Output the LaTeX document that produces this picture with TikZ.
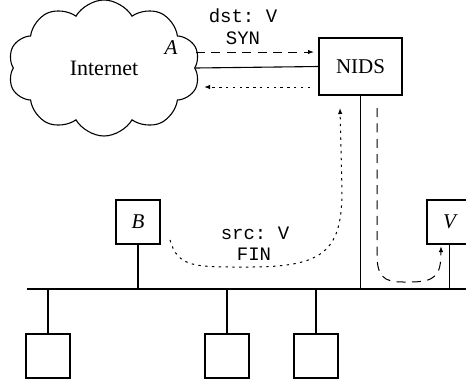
\documentclass[tikz,border=0pt]{standalone}
\usepackage{fontspec}
\setmainfont{Liberation Serif}
\setmonofont{Liberation Mono}
\usetikzlibrary{shapes.symbols, arrows.meta}

\begin{document}
\begin{tikzpicture}[
	x=0.5pt, y=-0.5pt,
	net node/.style = {draw, line width=0.55pt},
	host/.style = {net node, rectangle, minimum size=22pt, inner sep=0pt, font=\fontsize{10.5}{12}\selectfont\itshape},
	wire/.style = {line width=0.55pt},
	tip/.style = {-{Latex[length=3pt, width=2.2pt]}},
	long dash/.style = {tip, line width=0.5pt, dash pattern=on 4.5pt off 3.2pt},
	short dash/.style = {tip, line width=0.5pt, dash pattern=on 1.2pt off 2.2pt},
	pkt/.style = {font=\ttfamily\fontsize{9.5}{11}\selectfont, inner sep=0pt},
]

	\useasboundingbox (0,0) rectangle (466,382);

	%% The outside world and the sensor
	\node [net node, cloud, cloud puffs=10, cloud puff arc=120, cloud ignores aspect,
		minimum width=96pt, minimum height=68pt, inner sep=0pt, font=\fontsize{11}{13}\selectfont]
		at (104,68) (inet) {Internet};
	\node [font=\fontsize{10.5}{12}\selectfont\itshape, inner sep=0pt] at (171,48) (a) {A};
	\node [net node, rectangle, minimum width=41.5pt, minimum height=28.5pt,
		font=\fontsize{10.5}{12}\selectfont] at (360.5,66.5) (nids) {NIDS};
	\draw [wire] (inet.east) -- (nids.west);

	%% The local segment
	\coordinate (bus-l) at (27,289);
	\coordinate (bus-r) at (470,289);
	\draw [wire] (bus-l) -- (bus-r);
	\draw [wire] (nids.south) -- (nids.south |- bus-l);

	\node [host] at (138,222) (b) {B};
	\node [host, minimum width=22.5pt] at (449.5,222) (v) {V};
	\foreach \h in {b, v}{%
		\draw [wire] (\h.south) -- (\h.south |- bus-l);
	}

	%% Iterate over the other hosts below the bus
	\foreach [count=\n] \x in {48, 227, 316}{%
		\node [host] at (\x,356) (h-\n) {};
		\draw [wire] (h-\n.north) -- (h-\n.north |- bus-l);
	}

	%% Packets
	\coordinate (syn-s) at (196,52);
	\coordinate (syn-e) at (314,52);
	\coordinate (back-s) at (310,87);
	\coordinate (back-e) at (204,87);
	\draw [long dash] (syn-s) -- (syn-e);
	\draw [short dash] (back-s) -- (back-e);
	\node [pkt] at (243,16) (dst) {dst: V};
	\node [pkt] at (243,38) (syn) {SYN};

	\coordinate (fin-s) at (170,240);
	\coordinate (fin-e) at (340,108);
	\draw [short dash] (fin-s) .. controls (178,268) and (195,267) .. (250,267)
		.. controls (325,267) and (342,250) .. (342,190) -- (fin-e);
	\node [pkt] at (255,233) (src) {src: V};
	\node [pkt] at (254,254) (fin) {FIN};

	\coordinate (fwd-s) at (377,108);
	\coordinate (fwd-e) at (441,246);
	\draw [long dash] (fwd-s) -- (377,255) .. controls (377,283) and (390,282) .. (410,282)
		.. controls (436,282) and (441,275) .. (fwd-e);

\end{tikzpicture}
\end{document}
